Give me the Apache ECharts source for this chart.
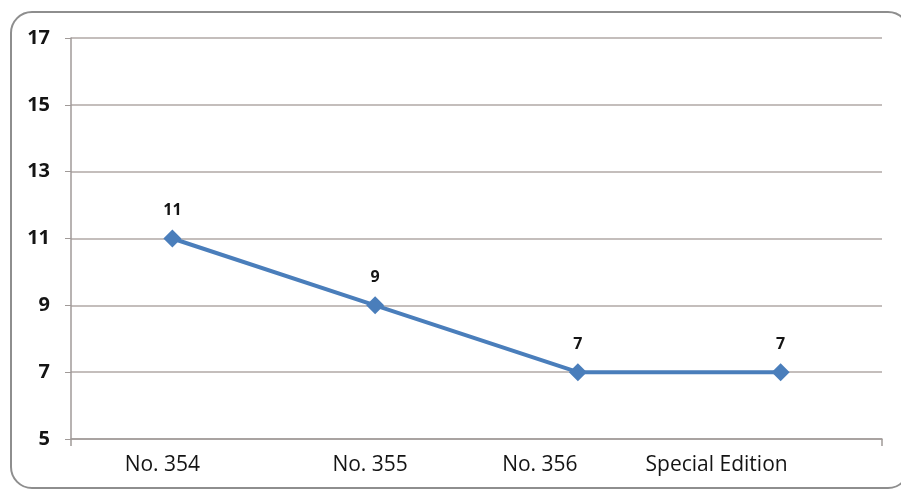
<!DOCTYPE html>
<html>
<head>
<meta charset="utf-8">
<script src="https://cdn.jsdelivr.net/npm/echarts@6/dist/echarts.min.js"></script>
<style>
html,body{margin:0;padding:0;background:#fff;}
#frame{position:absolute;left:10px;top:11px;width:900px;height:478px;border:2px solid #8e8e8e;border-radius:22px;box-sizing:border-box;}
#chart{position:absolute;left:0;top:0;width:901px;height:493px;}
</style>
</head>
<body>
<div id="frame"></div>
<div id="chart"></div>
<script>
const categories = ["No. 354", "No. 355", "No. 356", "Special Edition"];
const values = [11, 9, 7, 7];
const yMin = 5, yMax = 17, yInterval = 2;

// label style: right padding nudges each category label left like the reference
const labelPadRight = [20, 10, 76, 128];

const chart = echarts.init(document.getElementById('chart'), null, {renderer: 'canvas'});
chart.setOption({
  animation: false,
  grid: {left: 71, right: 19, top: 38, bottom: 54, containLabel: false},
  xAxis: {
    type: 'category',
    data: categories.map((c, i) => ({value: c, textStyle: {padding: [0, labelPadRight[i], 0, 0]}})),
    boundaryGap: true,
    axisLine: {show: true, lineStyle: {color: '#a09a98', width: 1.5}},
    axisTick: {show: true, length: 7, interval: (i) => i === categories.length - 1, lineStyle: {color: '#a09a98', width: 1.5}},
    axisLabel: {margin: 16, color: '#141414', fontSize: 21, fontFamily: 'Open Sans', interval: 0}
  },
  yAxis: {
    type: 'value',
    min: yMin, max: yMax, interval: yInterval,
    axisLine: {show: true, lineStyle: {color: '#a09a98', width: 1.5}},
    axisTick: {show: true, length: 6, inside: false, lineStyle: {color: '#a09a98'}},
    splitLine: {show: true, lineStyle: {color: '#b0a8a6', width: 1.5}},
    axisLabel: {margin: 21, color: '#141414', fontSize: 20, fontWeight: 'bold', fontFamily: 'Open Sans'}
  },
  series: [{
    type: 'line',
    data: values,
    symbol: 'diamond',
    symbolSize: 18,
    lineStyle: {color: '#4a7ebb', width: 4},
    itemStyle: {color: '#4a7ebb'},
    label: {show: true, position: 'top', distance: 11, color: '#141414', fontSize: 16, fontWeight: 'bold', fontFamily: 'Open Sans'}
  }]
});
</script>
</body>
</html>
